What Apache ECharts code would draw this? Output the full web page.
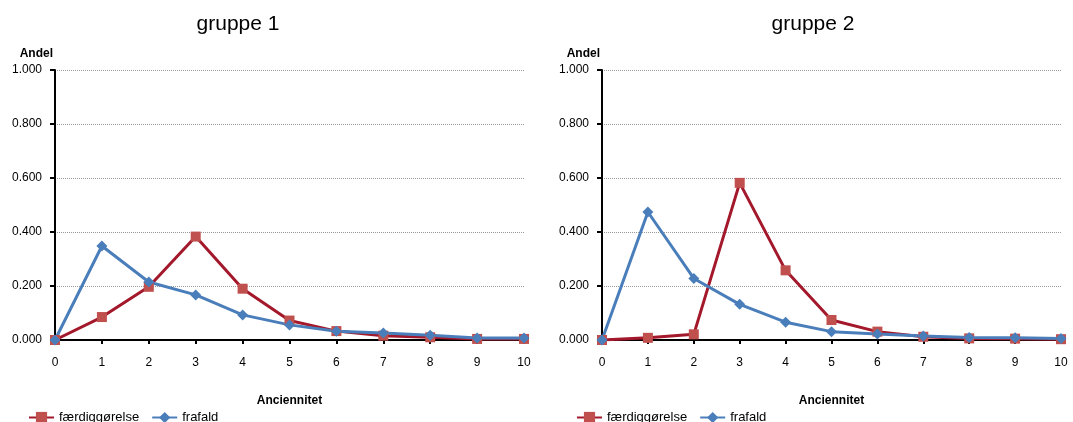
<!DOCTYPE html>
<html>
<head>
<meta charset="utf-8">
<script src="https://cdn.jsdelivr.net/npm/echarts@6/dist/echarts.min.js"></script>
<style>
html,body{margin:0;padding:0;background:#fff;}
#c{width:1073px;height:422px;}
</style>
</head>
<body>
<div id="c"></div>
<script>
var categories = ['0','1','2','3','4','5','6','7','8','9','10'];
var yTicks = [0, 0.2, 0.4, 0.6, 0.8, 1.0];
var seriesNames = ['færdiggørelse', 'frafald'];
var titles = ['gruppe 1', 'gruppe 2'];
var g1Faerdig = [0.000, 0.085, 0.197, 0.383, 0.190, 0.072, 0.033, 0.016, 0.010, 0.004, 0.004];
var g1Frafald = [0.000, 0.348, 0.215, 0.167, 0.093, 0.056, 0.032, 0.026, 0.018, 0.007, 0.007];
var g2Faerdig = [0.000, 0.008, 0.021, 0.582, 0.258, 0.074, 0.031, 0.012, 0.006, 0.005, 0.003];
var g2Frafald = [0.000, 0.474, 0.228, 0.132, 0.066, 0.031, 0.022, 0.015, 0.009, 0.008, 0.006];

var font = 'Liberation Sans, Arial, sans-serif';
var chart = echarts.init(document.getElementById('c'), null, {renderer: 'canvas'});

function xAxis(i) {
  return {
    type: 'category', gridIndex: i, data: categories, boundaryGap: false,
    name: 'Anciennitet', nameLocation: 'middle', nameGap: 55,
    nameTextStyle: {fontFamily: font, fontSize: 12, fontWeight: 'bold', color: '#000'},
    axisLine: {lineStyle: {color: '#000', width: 2}},
    axisTick: {show: true, inside: false, length: 4, lineStyle: {color: '#000', width: 2}},
    axisLabel: {fontFamily: font, fontSize: 12, color: '#000', margin: 17, interval: 0},
    splitLine: {show: false}
  };
}
function yAxis(i) {
  return {
    type: 'value', gridIndex: i, min: yTicks[0], max: yTicks[yTicks.length - 1], interval: 0.2,
    name: 'Andel', nameLocation: 'end', nameGap: 16,
    nameTextStyle: {fontFamily: font, fontSize: 12, fontWeight: 'bold', color: '#000', align: 'right', verticalAlign: 'middle', padding: [0, 2, 0, 0]},
    axisLine: {show: true, lineStyle: {color: '#000', width: 2}},
    axisTick: {show: true, inside: false, length: 5, lineStyle: {color: '#000', width: 2}},
    axisLabel: {fontFamily: font, fontSize: 12, color: '#000', margin: 13, formatter: function (v) { return v.toFixed(3); }},
    splitLine: {show: true, lineStyle: {color: '#9a9a9a', type: 'dotted', width: 1}}
  };
}
function redSeries(i, data) {
  return {
    name: seriesNames[0], type: 'line', xAxisIndex: i, yAxisIndex: i, data: data,
    symbol: 'rect', symbolSize: 10, showAllSymbol: true,
    lineStyle: {color: '#A3182B', width: 3},
    itemStyle: {color: '#C0504D', borderWidth: 0},
    emphasis: {disabled: true}, animation: false
  };
}
function blueSeries(i, data) {
  return {
    name: seriesNames[1], type: 'line', xAxisIndex: i, yAxisIndex: i, data: data,
    symbol: 'diamond', symbolSize: 11, showAllSymbol: true,
    lineStyle: {color: '#4A7EBB', width: 3},
    itemStyle: {color: '#4A7EBB', borderWidth: 0},
    emphasis: {disabled: true}, animation: false
  };
}
function legend(left) {
  return {data: seriesNames, left: left, top: 411, padding: 0, itemWidth: 25, itemHeight: 14, itemGap: 12,
    textStyle: {fontFamily: font, fontSize: 13, color: '#000'}};
}

chart.setOption({
  animation: false,
  backgroundColor: '#fff',
  title: [
    {text: titles[0], left: 233, top: 9, textAlign: 'center', textStyle: {fontFamily: font, fontSize: 21, fontWeight: 'normal', color: '#000'}},
    {text: titles[1], left: 808, top: 9, textAlign: 'center', textStyle: {fontFamily: font, fontSize: 21, fontWeight: 'normal', color: '#000'}}
  ],
  legend: [legend(28), legend(576)],
  grid: [
    {left: 55, right: 1073 - 524, top: 70, bottom: 422 - 340, containLabel: false},
    {left: 602, right: 1073 - 1061, top: 70, bottom: 422 - 340, containLabel: false}
  ],
  xAxis: [xAxis(0), xAxis(1)],
  yAxis: [yAxis(0), yAxis(1)],
  series: [
    redSeries(0, g1Faerdig), blueSeries(0, g1Frafald),
    redSeries(1, g2Faerdig), blueSeries(1, g2Frafald)
  ]
});
</script>
</body>
</html>
